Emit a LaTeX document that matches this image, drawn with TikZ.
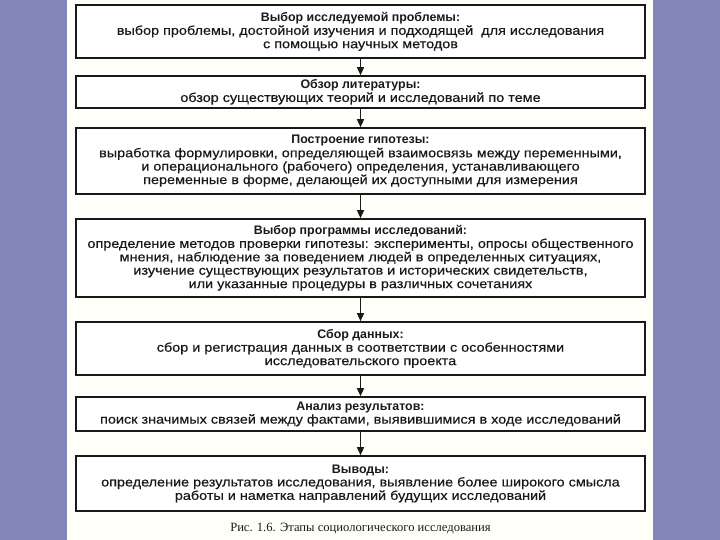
\documentclass[tikz,border=0pt]{standalone}
\usepackage{fontspec}
\setmainfont{Liberation Sans}
\newfontfamily\bodyfont[FakeStretch=1.135,FakeBold=0.4]{Liberation Sans}
\newfontfamily\capfont{Liberation Serif}
\usetikzlibrary{arrows.meta}
\definecolor{slideblue}{RGB}{131,134,184}
\definecolor{inkc}{RGB}{25,25,25}
\tikzset{
  stagebox/.style={draw=inkc, line width=1.6pt, fill=white, inner sep=0pt,
    minimum width=569pt, align=center, text=inkc,
    font=\bodyfont\fontsize{12.7}{13.4}\selectfont},
  flowarrow/.style={draw=inkc, line width=1.3pt, -{Triangle[length=8pt,width=7pt]}}
}
\newcommand{\stitle}[1]{{\normalfont\bfseries\fontsize{12.4}{13.4}\selectfont #1}}
\begin{document}
\begin{tikzpicture}[x=1pt,y=-1pt]
\useasboundingbox (0,0) rectangle (720,540);
\fill[slideblue] (0,0) rectangle (720,540);
\fill[white!98!yellow] (67,0) rectangle (653,540);
\node[stagebox, minimum height=53pt] (b1) at (360.5,31.5)
  {\stitle{Выбор исследуемой проблемы:}\\
   выбор проблемы, достойной изучения и подходящей\ \ для исследования\\
   с помощью научных методов};
\node[stagebox, minimum height=32pt] (b2) at (360.5,92)
  {\stitle{Обзор литературы:}\\
   обзор существующих теорий и исследований по теме};
\node[stagebox, minimum height=66pt] (b3) at (360.5,161)
  {\stitle{Построение гипотезы:}\\
   выработка формулировки, определяющей взаимосвязь между переменными,\\
   и операционального (рабочего) определения, устанавливающего\\
   переменные в форме, делающей их доступными для измерения};
\node[stagebox, minimum height=78pt] (b4) at (360.5,258)
  {\stitle{Выбор программы исследований:}\\
   определение методов проверки гипотезы: эксперименты, опросы общественного\\
   мнения, наблюдение за поведением людей в определенных ситуациях,\\
   изучение существующих результатов и исторических свидетельств,\\
   или указанные процедуры в различных сочетаниях};
\node[stagebox, minimum height=53pt] (b5) at (360.5,348.5)
  {\stitle{Сбор данных:}\\
   сбор и регистрация данных в соответствии с особенностями\\
   исследовательского проекта};
\node[stagebox, minimum height=34pt] (b6) at (360.5,414)
  {\stitle{Анализ результатов:}\\
   поиск значимых связей между фактами, выявившимися в ходе исследований};
\node[stagebox, minimum height=55pt] (b7) at (360.5,483.5)
  {\stitle{Выводы:}\\
   определение результатов исследования, выявление более широкого смысла\\
   работы и наметка направлений будущих исследований};
\node[text=inkc, font=\capfont\fontsize{12.6}{14}\selectfont] (cap) at (360.5,529)
  {Рис. 1.6. Этапы социологического исследования};
\draw[flowarrow] (b1) -- (b2);
\draw[flowarrow] (b2) -- (b3);
\draw[flowarrow] (b3) -- (b4);
\draw[flowarrow] (b4) -- (b5);
\draw[flowarrow] (b5) -- (b6);
\draw[flowarrow] (b6) -- (b7);
\end{tikzpicture}
\end{document}
